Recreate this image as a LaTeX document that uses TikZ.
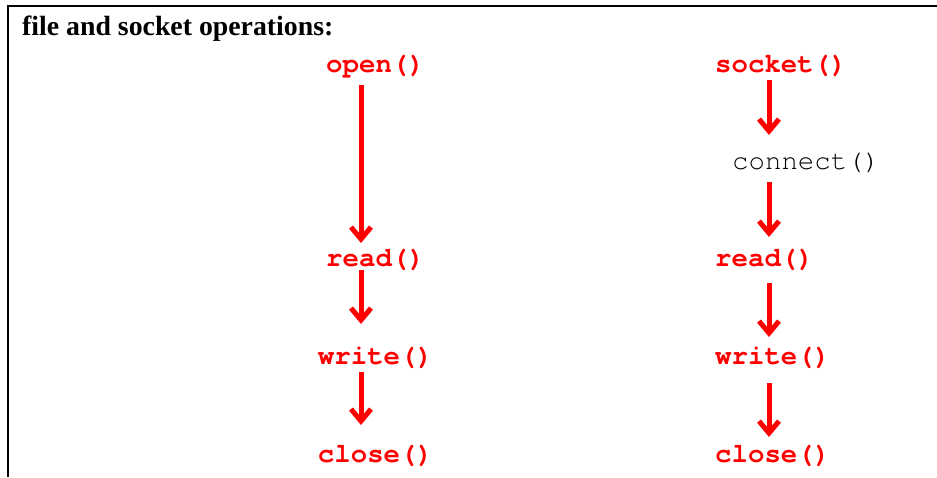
\documentclass[tikz,border=0pt]{standalone}
\usepackage{fontspec}
\setmainfont{Liberation Serif}
\newfontfamily\codefont{TeX Gyre Cursor}
\usetikzlibrary{arrows.meta,calc}
\definecolor{codered}{RGB}{255,0,0}
\tikzset{
  fn/.style={inner sep=0pt,text=codered,font=\codefont\fontsize{27.4}{30}\selectfont\bfseries},
  plainfn/.style={inner sep=0pt,text=black,font=\codefont\fontsize{27.4}{30}\selectfont},
  arr/.style={draw=codered,line width=5pt,-{Straight Barb[length=12pt,width=20pt]}},
  frame/.style={line width=1.4pt}
}
\begin{document}
\begin{tikzpicture}[x=1pt,y=-1pt]
\useasboundingbox (0,0) rectangle (937,477);
\fill[white] (0,0) rectangle (937,477);
\coordinate (tl) at (8,6);
\coordinate (tr) at (937,6);
\coordinate (bl) at (8,477);
\draw[frame] (tr) -- (tl) -- (bl);
\node[anchor=base west,inner sep=0pt,font=\fontsize{27.8}{30}\selectfont\bfseries] (title) at (22,35) {file and socket operations:};
% left column
\node[fn,anchor=base] (open) at (375.5,72) {open()};
\node[fn,anchor=base] (lread) at (375.5,266) {read()};
\node[fn,anchor=base] (lwrite) at (375.5,364) {write()};
\node[fn,anchor=base] (lclose) at (375.5,462) {close()};
\draw[arr] ($(open.base)+(-14.5,13)$) -- ($(lread.base)+(-14.5,-23)$);
\draw[arr] ($(lread.base)+(-14.5,4)$) -- ($(lwrite.base)+(-14.5,-40)$);
\draw[arr] ($(lwrite.base)+(-14.5,8)$) -- ($(lclose.base)+(-14.5,-37)$);
% right column
\node[fn,anchor=base west] (socket) at (715,72) {socket()};
\node[plainfn,anchor=base west] (connect) at (732,169) {connect()};
\node[fn,anchor=base west] (rread) at (715,266) {read()};
\node[fn,anchor=base west] (rwrite) at (715,364) {write()};
\node[fn,anchor=base west] (rclose) at (715,462) {close()};
\draw[arr] ($(socket.base west)+(54,8)$) -- ($(connect.base west)+(37,-34)$);
\draw[arr] ($(connect.base west)+(37,13)$) -- ($(rread.base west)+(54,-29)$);
\draw[arr] ($(rread.base west)+(54,17)$) -- ($(rwrite.base west)+(54,-27)$);
\draw[arr] ($(rwrite.base west)+(54,19)$) -- ($(rclose.base west)+(54,-25)$);
\end{tikzpicture}
\end{document}
